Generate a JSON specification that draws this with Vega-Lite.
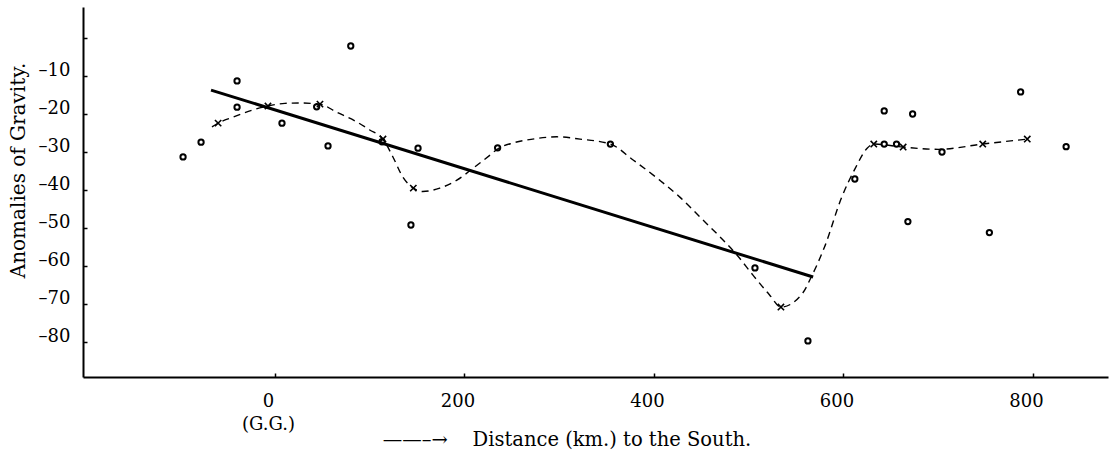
{
  "$schema": "https://vega.github.io/schema/vega-lite/v6.json",
  "width": 1025,
  "height": 370,
  "autosize": {"type": "none"},
  "padding": {"left": 83, "top": 7, "right": 6, "bottom": 79},
  "background": "white",
  "config": {"view": {"stroke": null}, "font": "DejaVu Serif"},
  "data": {
    "values": [
      {"series": "line", "x": -67.5, "y": -13.7},
      {"series": "line", "x": 568, "y": -62.9},

      {"series": "curve", "x": -66.5, "y": -23.4},
      {"series": "curve", "x": -60, "y": -22.4},
      {"series": "curve", "x": -44, "y": -20.8},
      {"series": "curve", "x": -23, "y": -18.9},
      {"series": "curve", "x": -7.4, "y": -17.9},
      {"series": "curve", "x": 10.5, "y": -17.2},
      {"series": "curve", "x": 26, "y": -17.1},
      {"series": "curve", "x": 47.5, "y": -17.4},
      {"series": "curve", "x": 65, "y": -19.5},
      {"series": "curve", "x": 86.5, "y": -22.1},
      {"series": "curve", "x": 100, "y": -24.2},
      {"series": "curve", "x": 114, "y": -26.6},
      {"series": "curve", "x": 124.5, "y": -31.3},
      {"series": "curve", "x": 135, "y": -36.6},
      {"series": "curve", "x": 146, "y": -39.5},
      {"series": "curve", "x": 156, "y": -40.4},
      {"series": "curve", "x": 174, "y": -39.5},
      {"series": "curve", "x": 192, "y": -37.4},
      {"series": "curve", "x": 209, "y": -34.3},
      {"series": "curve", "x": 227, "y": -30.8},
      {"series": "curve", "x": 235, "y": -29.2},
      {"series": "curve", "x": 251.5, "y": -27.6},
      {"series": "curve", "x": 272, "y": -26.6},
      {"series": "curve", "x": 297.6, "y": -26},
      {"series": "curve", "x": 322, "y": -26.6},
      {"series": "curve", "x": 354, "y": -27.9},
      {"series": "curve", "x": 378, "y": -32.1},
      {"series": "curve", "x": 406, "y": -37.4},
      {"series": "curve", "x": 427, "y": -41.8},
      {"series": "curve", "x": 448.5, "y": -47.1},
      {"series": "curve", "x": 470, "y": -52.4},
      {"series": "curve", "x": 487.6, "y": -57.1},
      {"series": "curve", "x": 504.5, "y": -62.4},
      {"series": "curve", "x": 522, "y": -67.6},
      {"series": "curve", "x": 534, "y": -70.8},
      {"series": "curve", "x": 557, "y": -67.1},
      {"series": "curve", "x": 566, "y": -62.9},
      {"series": "curve", "x": 580, "y": -55},
      {"series": "curve", "x": 598, "y": -42},
      {"series": "curve", "x": 612, "y": -34.5},
      {"series": "curve", "x": 625, "y": -29},
      {"series": "curve", "x": 632, "y": -27.9},
      {"series": "curve", "x": 663, "y": -28.7},
      {"series": "curve", "x": 700, "y": -29.3},
      {"series": "curve", "x": 747, "y": -27.9},
      {"series": "curve", "x": 794, "y": -26.6},

      {"series": "mean", "x": -60, "y": -22.4},
      {"series": "mean", "x": -7.4, "y": -17.9},
      {"series": "mean", "x": 47.5, "y": -17.4},
      {"series": "mean", "x": 114, "y": -26.6},
      {"series": "mean", "x": 146, "y": -39.5},
      {"series": "mean", "x": 534, "y": -70.8},
      {"series": "mean", "x": 632, "y": -27.9},
      {"series": "mean", "x": 663, "y": -28.7},
      {"series": "mean", "x": 747, "y": -27.9},
      {"series": "mean", "x": 794, "y": -26.6},

      {"series": "obs", "x": -97, "y": -31.3},
      {"series": "obs", "x": -78, "y": -27.4},
      {"series": "obs", "x": -40, "y": -11.3},
      {"series": "obs", "x": -40, "y": -18.2},
      {"series": "obs", "x": 7.4, "y": -22.4},
      {"series": "obs", "x": 44, "y": -18.1},
      {"series": "obs", "x": 56, "y": -28.4},
      {"series": "obs", "x": 80, "y": -2.1},
      {"series": "obs", "x": 113, "y": -27.3},
      {"series": "obs", "x": 151, "y": -29},
      {"series": "obs", "x": 143.5, "y": -49.2},
      {"series": "obs", "x": 235, "y": -28.9},
      {"series": "obs", "x": 354, "y": -27.9},
      {"series": "obs", "x": 506.6, "y": -60.5},
      {"series": "obs", "x": 562.5, "y": -79.7},
      {"series": "obs", "x": 612, "y": -37.1},
      {"series": "obs", "x": 643, "y": -19.2},
      {"series": "obs", "x": 643, "y": -27.9},
      {"series": "obs", "x": 656, "y": -27.9},
      {"series": "obs", "x": 673, "y": -20},
      {"series": "obs", "x": 668, "y": -48.3},
      {"series": "obs", "x": 704, "y": -30},
      {"series": "obs", "x": 754, "y": -51.2},
      {"series": "obs", "x": 787, "y": -14.2},
      {"series": "obs", "x": 835, "y": -28.6}
    ]
  },
  "encoding": {
    "x": {
      "field": "x",
      "type": "quantitative",
      "scale": {"domain": [-202.6, 879.2], "nice": false, "zero": false},
      "axis": {
        "values": [0, 200, 400, 600, 800],
        "grid": false,
        "domainColor": "black",
        "domainWidth": 2,
        "tickColor": "black",
        "tickWidth": 1.5,
        "tickSize": -4,
        "labelFont": "DejaVu Serif",
        "labelFontSize": 18,
        "labelColor": "black",
        "labelPadding": 19,
        "labelOffset": -7,
        "labelBaseline": "top",
        "labelLineHeight": 23,
        "labelOverlap": false,
        "labelFlush": false,
        "labelExpr": "datum.value == 0 ? ['0', '(G.G.)'] : datum.label",
        "title": "——–→\u00a0\u00a0\u00a0\u00a0Distance (km.) to the South.",
        "titleFont": "DejaVu Serif",
        "titleFontSize": 19.5,
        "titleFontWeight": "normal",
        "titleColor": "black",
        "titleX": 483.5,
        "titleY": 68,
        "titleAlign": "center",
        "titleBaseline": "alphabetic"
      }
    },
    "y": {
      "field": "y",
      "type": "quantitative",
      "scale": {"domain": [-89.2, 8.16], "nice": false, "zero": false},
      "axis": {
        "values": [0, -10, -20, -30, -40, -50, -60, -70, -80],
        "grid": false,
        "domainColor": "black",
        "domainWidth": 2,
        "tickColor": "black",
        "tickWidth": 1.5,
        "tickSize": -4,
        "labelFont": "DejaVu Serif",
        "labelFontSize": 18,
        "labelColor": "black",
        "labelPadding": 17,
        "labelOffset": -6,
        "labelOverlap": false,
        "labelFlush": false,
        "labelExpr": "datum.value == 0 ? '' : '–' + abs(datum.value)",
        "title": "Anomalies of Gravity.",
        "titleFont": "DejaVu Serif",
        "titleFontSize": 20,
        "titleFontWeight": "normal",
        "titleColor": "black",
        "titleAngle": -90,
        "titleX": -59,
        "titleY": 163,
        "titleAlign": "center",
        "titleBaseline": "alphabetic"
      }
    }
  },
  "layer": [
    {
      "transform": [{"filter": "datum.series === 'line'"}],
      "mark": {"type": "line", "color": "black", "strokeWidth": 3}
    },
    {
      "transform": [{"filter": "datum.series === 'curve'"}],
      "mark": {"type": "line", "color": "black", "strokeWidth": 1.4, "strokeDash": [7, 5], "interpolate": "monotone"}
    },
    {
      "transform": [{"filter": "datum.series === 'mean'"}],
      "mark": {"type": "point", "shape": "M-1,-1L1,1M1,-1L-1,1", "size": 40, "filled": false, "color": "black", "strokeWidth": 1.6, "opacity": 1}
    },
    {
      "transform": [{"filter": "datum.series === 'obs'"}],
      "mark": {"type": "point", "shape": "circle", "size": 28, "filled": false, "color": "black", "strokeWidth": 2, "opacity": 1}
    }
  ]
}
